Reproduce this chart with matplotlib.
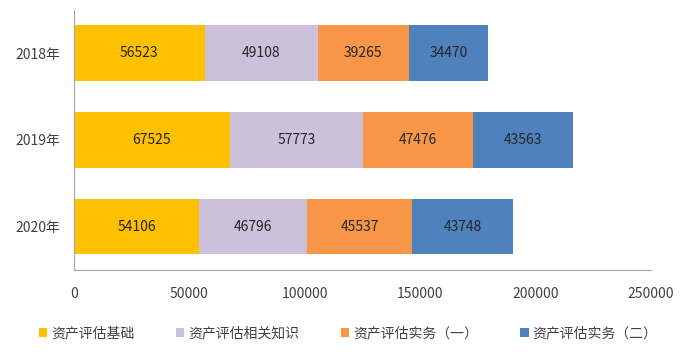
import matplotlib.pyplot as plt
import numpy as np

plt.rcParams['font.family'] = ['Noto Sans CJK SC', 'DejaVu Sans']

years = ['2018年', '2019年', '2020年']
series_names = ['资产评估基础', '资产评估相关知识', '资产评估实务（一）', '资产评估实务（二）']
basic = [56523, 67525, 54106]
related = [49108, 57773, 46796]
practice1 = [39265, 47476, 45537]
practice2 = [34470, 43563, 43748]
colors = ['#FFC000', '#CCC1DA', '#F79646', '#4F81BD']

fig = plt.figure(figsize=(6.92, 3.52), dpi=100)
ax = fig.add_axes([0.107, 0.233, 0.834, 0.739])

y = np.arange(len(years))
left = np.zeros(len(years))
for name, vals, c in zip(series_names, [basic, related, practice1, practice2], colors):
    bars = ax.barh(y, vals, left=left, height=0.64, color=c, label=name)
    ax.bar_label(bars, labels=[str(v) for v in vals], label_type='center',
                 fontsize=10, color='#262626')
    left += np.array(vals)

ax.set_xlim(0, 250000)
ax.set_ylim(2.5, -0.5)
ax.set_yticks(y)
ax.set_yticklabels(years, fontsize=10)
ax.set_xticks(range(0, 250001, 50000))
ax.tick_params(axis='both', length=0, labelsize=10, colors='#404040')
ax.tick_params(axis='x', pad=12)
ax.tick_params(axis='y', pad=10)

for s in ['top', 'right']:
    ax.spines[s].set_visible(False)
for s in ['left', 'bottom']:
    ax.spines[s].set_color('#A6A6A6')

fig.legend(loc='center', bbox_to_anchor=(0.503, 0.054), ncol=4, frameon=False,
           fontsize=10, handlelength=0.6, handleheight=0.6, handletextpad=0.3,
           columnspacing=3.0, labelcolor='#404040')

fig.savefig('out.png', dpi=100)
